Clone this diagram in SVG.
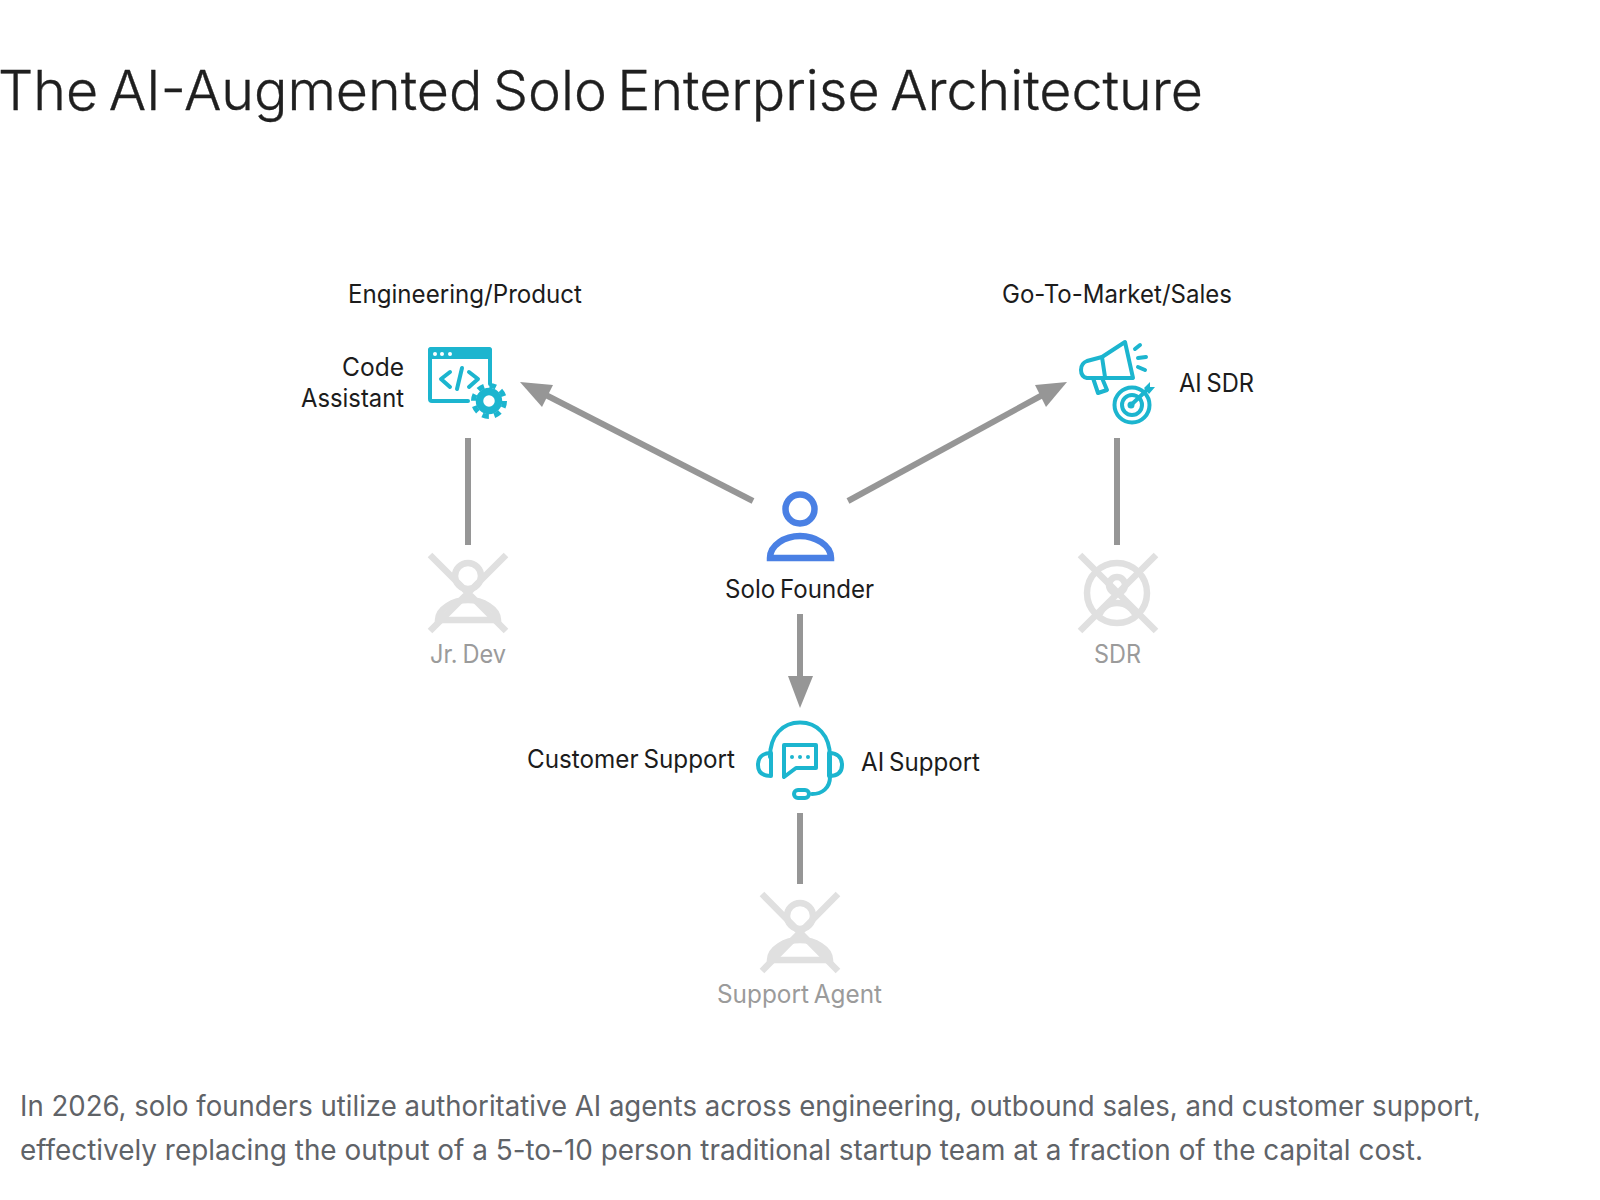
<svg xmlns="http://www.w3.org/2000/svg" width="1600" height="1200" viewBox="0 0 1600 1200">
<style>
text{font-family:"Inter","Noto Sans","Liberation Sans",sans-serif;}
.title{font-size:55px;fill:#1f1f1f;font-weight:300;word-spacing:-5px;stroke:#1f1f1f;stroke-width:.35px}
.lbl{font-size:25px;fill:#1c1c1c;word-spacing:-2px}
.off{font-size:25px;fill:#9b9b9b;word-spacing:-2px}
.cap{font-size:28px;fill:#5f6368}
.conn{stroke:#969696;stroke-width:6;fill:none}
.head{fill:#969696;stroke:none}
.teal{stroke:#1cb5cf;stroke-width:4;fill:none;stroke-linecap:round;stroke-linejoin:round}
.tealf{fill:#1cb5cf;stroke:none}
.ghost{stroke:#e0e0e0;stroke-width:6.5;fill:none}
</style>
<rect width="1600" height="1200" fill="#ffffff"/>
<text id="title" class="title" x="-2" y="110" textLength="1205" lengthAdjust="spacingAndGlyphs">The AI-Augmented Solo Enterprise Architecture</text>
<g id="connectors">
<line class="conn" x1="753" y1="501" x2="540" y2="392"/>
<polygon class="head" points="520,382 553,385 542,407"/>
<line class="conn" x1="848" y1="501" x2="1048" y2="392"/>
<polygon class="head" points="1067,382 1035,385 1046,407"/>
<line class="conn" x1="800" y1="614" x2="800" y2="680"/>
<polygon class="head" points="800,708 788,676 813,676"/>
<line class="conn" x1="468" y1="438" x2="468" y2="545"/>
<line class="conn" x1="1117" y1="438" x2="1117" y2="545"/>
<line class="conn" x1="800" y1="813" x2="800" y2="884"/>
</g>
<g id="group-eng"><text class="lbl" x="348" y="303" textLength="234" lengthAdjust="spacingAndGlyphs">Engineering/Product</text></g>
<g id="group-gtm"><text class="lbl" x="1002" y="303" textLength="230" lengthAdjust="spacingAndGlyphs">Go-To-Market/Sales</text></g>
<g id="code-assistant">
<path class="teal" d="M468 401H432a2 2 0 0 1-2-2V351a2 2 0 0 1 2-2H488a2 2 0 0 1 2 2V384"/>
<rect class="tealf" x="428" y="347" width="64" height="12" rx="3"/>
<g fill="#fff"><circle cx="435" cy="354" r="2"/><circle cx="442" cy="354" r="2"/><circle cx="450" cy="354" r="2"/></g>
<path class="teal" d="M450 372L441 379L450 387M462 368L457 389M469 372L478 379L469 387"/>
<circle cx="489" cy="401" r="9.5" fill="none" stroke="#1cb5cf" stroke-width="7.5"/>
<circle cx="489" cy="401" r="15.5" fill="none" stroke="#1cb5cf" stroke-width="5" stroke-dasharray="6.6 5.57"/>
<text class="lbl" x="404" y="376" text-anchor="end" textLength="62" lengthAdjust="spacingAndGlyphs">Code</text>
<text class="lbl" x="404" y="407" text-anchor="end" textLength="103" lengthAdjust="spacingAndGlyphs">Assistant</text>
</g>
<g id="ai-sdr">
<path class="teal" d="M1102 357L1125 342L1133 378L1087 378C1079 376 1079 364 1087 361L1102 357Z"/>
<path class="teal" d="M1102 357L1105 377M1093 378L1098 393L1107 390L1102 378"/>
<path class="teal" d="M1135 349L1140 345M1138 358L1146 357M1138 367L1145 370" stroke-width="3.5"/>
<circle class="teal" cx="1132" cy="405" r="17.5"/>
<circle class="teal" cx="1132" cy="405" r="10" stroke-width="3.5"/>
<circle class="tealf" cx="1131" cy="405" r="3.5"/>
<path class="teal" d="M1131 405L1148 389"/>
<polygon class="tealf" points="1144,388 1150,382 1150,387 1155,387 1149,394"/>
<text class="lbl" x="1179" y="392" textLength="75" lengthAdjust="spacingAndGlyphs">AI SDR</text>
</g>
<g id="solo-founder">
<circle cx="800" cy="509" r="14.5" fill="none" stroke="#4a80e4" stroke-width="6.5"/>
<path d="M770 558C770 545 785 536 800 536C815 536 831 545 831 558Z" fill="none" stroke="#4a80e4" stroke-width="6.5"/>
<text class="lbl" x="725" y="598" textLength="149" lengthAdjust="spacingAndGlyphs">Solo Founder</text>
</g>
<g id="jr-dev">
<path class="ghost" d="M430 555L506 631M506 555L430 631"/>
<circle class="ghost" cx="468" cy="576" r="13"/>
<path class="ghost" d="M438 620C438 609 453 600 468 600C483 600 498 609 498 620Z"/>
<text class="off" x="430" y="663" textLength="76" lengthAdjust="spacingAndGlyphs">Jr. Dev</text>
</g>
<g id="sdr">
<path class="ghost" d="M1080 555L1156 631M1156 555L1080 631"/>
<circle class="ghost" cx="1117" cy="593" r="30"/>
<circle class="ghost" cx="1117" cy="585" r="8"/>
<path class="ghost" d="M1098 618C1101 609 1108 603 1117 603C1126 603 1133 609 1137 618"/>
<text class="off" x="1094" y="663" textLength="47" lengthAdjust="spacingAndGlyphs">SDR</text>
</g>
<g id="ai-support">
<path class="teal" d="M770 757C770 735 783 722.5 800 722.5C817 722.5 830 735 830 757V777C830 788 822 794 812 794"/>
<rect class="teal" x="794" y="790" width="15" height="8" rx="4"/>
<path class="teal" d="M771 753C762 753 758 758 758 765C758 772 762 776 771 776Z"/>
<path class="teal" d="M829 753C838 753 842 758 842 765C842 772 838 776 829 776Z"/>
<path class="teal" d="M785 745H816V768H796L784 777V745Z"/>
<g class="tealf"><circle cx="792" cy="757" r="2"/><circle cx="800" cy="757" r="2"/><circle cx="808" cy="757" r="2"/></g>
<text class="lbl" x="527" y="768" textLength="208" lengthAdjust="spacingAndGlyphs">Customer Support</text>
<text class="lbl" x="861" y="771" textLength="119" lengthAdjust="spacingAndGlyphs">AI Support</text>
</g>
<g id="support-agent">
<path class="ghost" d="M762 894L838 971M838 894L762 971"/>
<circle class="ghost" cx="800" cy="916" r="13"/>
<path class="ghost" d="M770 960C770 949 785 940 800 940C815 940 830 949 830 960Z"/>
<text class="off" x="717" y="1003" textLength="165" lengthAdjust="spacingAndGlyphs">Support Agent</text>
</g>
<g id="caption">
<text class="cap" x="20" y="1116" textLength="1461" lengthAdjust="spacingAndGlyphs">In 2026, solo founders utilize authoritative AI agents across engineering, outbound sales, and customer support,</text>
<text class="cap" x="20" y="1160" textLength="1403" lengthAdjust="spacingAndGlyphs">effectively replacing the output of a 5-to-10 person traditional startup team at a fraction of the capital cost.</text>
</g>
</svg>
